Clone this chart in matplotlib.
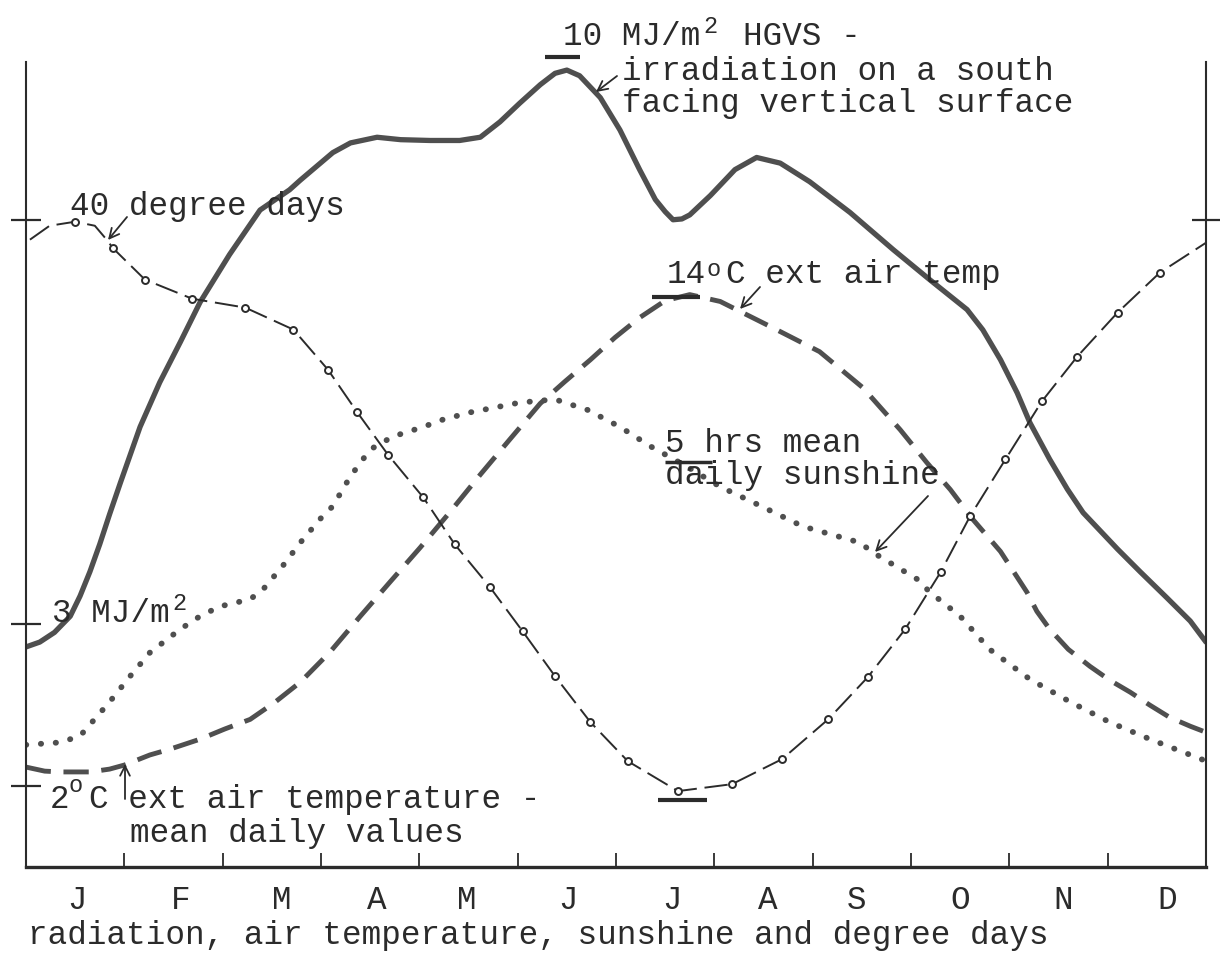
import matplotlib.pyplot as plt

W, H = 1223, 954
INK = '#2b2b2b'
PEN = '#4f4f4f'
plt.rcParams['font.family'] = ['Liberation Mono', 'DejaVu Sans']

# one chart unit = 1 MJ/m2 = 1 hr sunshine = 2 degC = 5 degree days
TEMP_PER_UNIT = 2.0
DD_PER_UNIT = 5.0

months = ['J', 'F', 'M', 'A', 'M', 'J', 'J', 'A', 'S', 'O', 'N', 'D']
month_label_x = [0.52, 1.57, 2.60, 3.57, 4.48, 5.51, 6.57, 7.54, 8.45, 9.50, 10.55, 11.61]

# HGVS irradiation on a south facing vertical surface, MJ/m2
rad_x = [0, 0.14, 0.29, 0.45, 0.55, 0.65, 0.75, 0.85, 0.96, 1.16, 1.36, 1.57, 1.77,
         2.07, 2.38, 2.68, 2.79, 3.12, 3.30, 3.57, 3.81, 4.11, 4.41, 4.62, 4.82,
         5.02, 5.23, 5.38, 5.50, 5.63, 5.84, 6.04, 6.24, 6.40, 6.50, 6.58, 6.67,
         6.75, 6.96, 7.21, 7.43, 7.67, 7.97, 8.38, 8.82, 9.19, 9.57, 9.73, 9.91,
         10.08, 10.21, 10.41, 10.59, 10.75, 11.10, 11.33, 11.60, 11.84, 12.0]
rad_mj = [2.72, 2.78, 2.90, 3.10, 3.35, 3.65, 3.99, 4.36, 4.75, 5.44, 5.99, 6.49, 6.98,
          7.57, 8.12, 8.37, 8.49, 8.83, 8.95, 9.02, 8.99, 8.98, 8.98, 9.02, 9.21,
          9.44, 9.67, 9.81, 9.85, 9.78, 9.51, 9.11, 8.62, 8.25, 8.10, 8.00, 8.01,
          8.06, 8.30, 8.62, 8.77, 8.70, 8.47, 8.09, 7.63, 7.26, 6.89, 6.64, 6.27,
          5.86, 5.49, 5.04, 4.67, 4.38, 3.93, 3.65, 3.33, 3.04, 2.78]

# external air temperature, mean daily values, degC
temp_x = [0, 0.19, 0.35, 0.65, 0.85, 1.00, 1.26, 1.46, 1.77, 2.02, 2.28, 2.53, 2.79,
          3.09, 3.40, 3.70, 4.01, 4.31, 4.62, 4.92, 5.23, 5.48, 5.74, 5.99, 6.24,
          6.50, 6.75, 7.06, 7.57, 8.07, 8.51, 8.89, 9.16, 9.40, 9.63, 9.91, 10.18,
          10.28, 10.41, 10.60, 10.82, 11.02, 11.23, 11.43, 11.63, 11.84, 12.0]
temp_c = [2.47, 2.37, 2.35, 2.35, 2.42, 2.52, 2.77, 2.91, 3.16, 3.41, 3.65, 4.07, 4.57,
          5.31, 6.20, 7.04, 7.90, 8.77, 9.70, 10.57, 11.46, 12.00, 12.54, 13.09, 13.58,
          14.00, 14.15, 13.98, 13.36, 12.74, 11.85, 10.81, 10.00, 9.33, 8.59, 7.80, 6.79,
          6.32, 5.88, 5.38, 4.96, 4.62, 4.32, 4.00, 3.70, 3.48, 3.33]

# mean daily sunshine, hours
sun_x = [0, 0.35, 0.55, 0.70, 0.85, 1.06, 1.26, 1.57, 1.77, 1.97, 2.28, 2.41, 2.61,
         2.79, 2.99, 3.12, 3.30, 3.50, 3.73, 4.04, 4.24, 4.52, 5.02, 5.38, 5.71,
         6.04, 6.35, 6.72, 7.06, 7.39, 7.90, 8.48, 8.61, 9.06, 9.19, 9.50, 9.80,
         10.21, 10.62, 11.02, 11.43, 12.0]
sun_hrs = [1.51, 1.54, 1.62, 1.83, 2.04, 2.36, 2.65, 2.94, 3.10, 3.22, 3.31, 3.43, 3.72,
           4.01, 4.30, 4.46, 4.83, 5.16, 5.32, 5.44, 5.53, 5.62, 5.74, 5.78, 5.65,
           5.44, 5.20, 4.95, 4.70, 4.51, 4.21, 4.01, 3.89, 3.56, 3.40, 3.10, 2.69,
           2.32, 2.04, 1.79, 1.58, 1.31]

# degree days
dd_x = [0.04, 0.24, 0.50, 0.70, 0.83, 0.88, 1.21, 1.69, 2.23, 2.72, 3.07, 3.37, 3.68,
        4.04, 4.36, 4.72, 5.05, 5.38, 5.74, 6.12, 6.63, 7.18, 7.69, 8.16, 8.56,
        8.94, 9.30, 9.60, 9.96, 10.33, 10.69, 11.10, 11.53, 12.0]
dd_val = [38.77, 39.63, 39.88, 39.63, 38.70, 38.27, 36.30, 35.12, 34.57, 33.21, 30.74,
          28.09, 25.49, 22.84, 19.94, 17.28, 14.57, 11.79, 8.95, 6.54, 4.69, 5.12,
          6.67, 9.14, 11.73, 14.69, 18.21, 21.67, 25.19, 28.77, 31.54, 34.26, 36.73, 38.58]
dd_circles = [2, 5] + list(range(6, 33))

fig = plt.figure(figsize=(W / 100, H / 100), dpi=100)
fig.patch.set_facecolor('white')
ax = fig.add_axes([26 / W, 1 - 868 / H, (1206 - 26) / W, (868 - 63) / H])
ax.set_xlim(0, 12)
ax.set_ylim(0, 9.95)

ax.plot(rad_x, rad_mj, color=PEN, lw=3.8, solid_capstyle='round', solid_joinstyle='round')
ax.plot(temp_x, [t / TEMP_PER_UNIT for t in temp_c], color=PEN, lw=3.5,
        linestyle=(0, (5.2, 2.6)))
ax.plot(sun_x, sun_hrs, color=PEN, lw=4.2, linestyle=(0, (0.05, 2.5)),
        dash_capstyle='round')
ax.plot(dd_x, [d / DD_PER_UNIT for d in dd_val], color=INK, lw=1.4,
        linestyle=(0, (12, 4)), marker='o', ms=5, mfc='white', mec=INK, mew=1.4,
        markevery=dd_circles)

# short bars marking the quoted values
ax.hlines(10.01, 5.28, 5.63, color=INK, lw=3, clip_on=False)
ax.hlines(14.1 / TEMP_PER_UNIT, 6.37, 6.85, color=INK, lw=3)
ax.hlines(5.0, 6.50, 6.98, color=INK, lw=2.5)
ax.hlines(4.14 / DD_PER_UNIT, 6.43, 6.93, color=INK, lw=3)

ax.spines['top'].set_visible(False)
for side in ['left', 'right']:
    ax.spines[side].set_linewidth(1.5)
    ax.spines[side].set_color(INK)
ax.spines['bottom'].set_linewidth(2.4)
ax.spines['bottom'].set_color(INK)

ax.set_xticks(range(1, 12))
ax.set_xticklabels([])
ax.tick_params(axis='x', direction='in', length=10, width=1.3, color=INK)
ax.set_yticks([2 / TEMP_PER_UNIT, 3, 40 / DD_PER_UNIT])
ax.set_yticklabels([])
ax.tick_params(axis='y', direction='inout', length=22, width=1.6, color=INK)

ax2 = ax.twinx()
ax2.set_ylim(ax.get_ylim())
ax2.set_yticks([40 / DD_PER_UNIT])
ax2.set_yticklabels([])
ax2.tick_params(axis='y', direction='inout', length=20, width=1.6, color=INK)
for s in ax2.spines.values():
    s.set_visible(False)

for mx, m in zip(month_label_x, months):
    ax.text(mx, -0.0509, m, transform=ax.get_xaxis_transform(), ha='center',
            va='baseline', fontsize=23.5, color=INK)


def put(x, y, s, size=23.5):
    fig.text(x / W, 1 - y / H, s, fontsize=size, color=INK, ha='left', va='baseline')


put(563, 45, "10 MJ/m")
put(703, 33, "2", 17)
put(743, 45, "HGVS -")
put(622, 80, "irradiation on a south")
put(622, 112, "facing vertical surface")
put(70, 215, "40 degree days")
put(667, 283, "14")
put(706, 276, "o", 17)
put(726, 283, "C ext air temp")
put(665, 452, "5 hrs mean")
put(665, 484, "daily sunshine")
put(52, 622, "3 MJ/m")
put(172, 610, "2", 17)
put(50, 808, "2")
put(69, 792, "o", 17)
put(89, 808, "C ext air temperature -")
put(130, 842, "mean daily values")
put(28, 944, "radiation, air temperature, sunshine and degree days")


def arrow(tail, head):
    ax.annotate('', xy=(head[0], H - head[1]), xycoords='figure pixels',
                xytext=(tail[0], H - tail[1]), textcoords='figure pixels',
                arrowprops=dict(arrowstyle='->,head_length=0.7,head_width=0.35',
                                lw=1.3, color=INK, shrinkA=0, shrinkB=0))


arrow((127, 218), (108, 241))
arrow((617, 77), (596, 93))
arrow((760, 288), (740, 310))
arrow((928, 497), (875, 553))
arrow((125, 800), (125, 765))

fig.savefig('out.png', dpi=100)
